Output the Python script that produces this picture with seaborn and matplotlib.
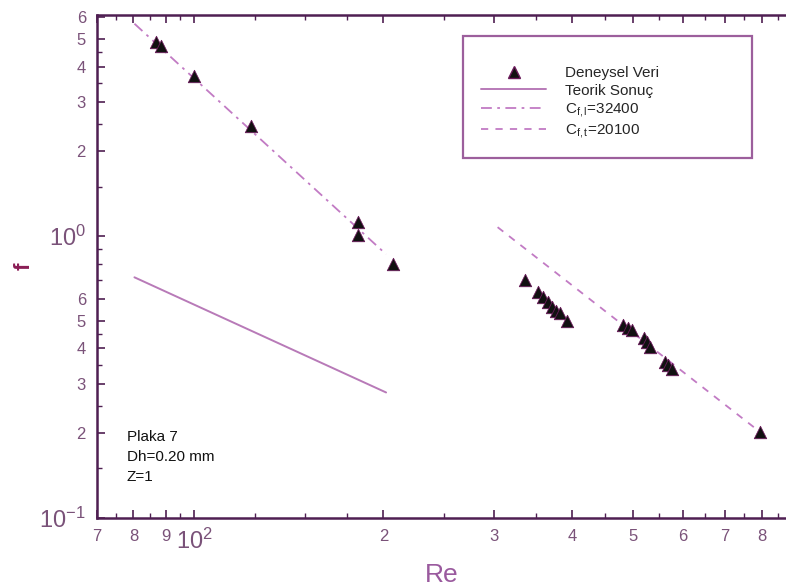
import numpy as np
import pandas as pd
import matplotlib
matplotlib.use("Agg")
import matplotlib.pyplot as plt
from matplotlib.patches import Rectangle
from matplotlib.lines import Line2D
import seaborn as sns

# ---- data ----
re_exp = [87.0, 88.5, 100, 123, 182, 182, 207,
          336, 353, 359, 366, 371, 377, 382, 392,
          481, 490, 498, 520, 526, 531, 561, 567, 576, 794]
f_exp = [4.90, 4.72, 3.71, 2.46, 1.12, 1.01, 0.795,
         0.697, 0.632, 0.607, 0.582, 0.563, 0.545, 0.532, 0.502,
         0.486, 0.474, 0.463, 0.434, 0.420, 0.406, 0.359, 0.348, 0.339, 0.202]

re_teorik = [80.3, 202]
f_teorik = [0.715, 0.279]
re_lam = [80.3, 202]
f_lam = [5.68, 0.863]
re_turb = [304, 800]
f_turb = [1.077, 0.200]

x_ticks = [70, 80, 90, 100, 200, 300, 400, 500, 600, 700, 800]
x_labels = ["7", "8", "9", r"$10^2$", "2", "3", "4", "5", "6", "7", "8"]
y_ticks = [0.1, 0.2, 0.3, 0.4, 0.5, 0.6, 1, 2, 3, 4, 5, 6]
y_labels = [r"$10^{-1}$", "2", "3", "4", "5", "6", r"$10^0$", "2", "3", "4", "5", "6"]

legend_labels = ["Deneysel Veri", "Teorik Sonuç", r"C$_{\mathrm{f,l}}$=32400", r"C$_{\mathrm{f,t}}$=20100"]
note_text = "Plaka 7\nDh=0.20 mm\nZ=1"

# ---- style ----
sns.set_theme(style="white")
plt.rcParams["font.family"] = ["Liberation Sans", "DejaVu Sans"]
plt.rcParams["mathtext.fontset"] = "custom"
plt.rcParams["mathtext.rm"] = "Liberation Sans"
plt.rcParams["mathtext.it"] = "Liberation Sans:italic"
plt.rcParams["mathtext.bf"] = "Liberation Sans:bold"

spine_c = "#4f1f52"
tick_c = "#7a5279"
line_c = "#c27bc4"

fig = plt.figure(figsize=(7.86, 5.87), dpi=100)
ax = fig.add_axes([0.1234, 0.1175, 0.8766, 0.857])

df_exp = pd.DataFrame({"Re": re_exp, "f": f_exp})
df_t = pd.DataFrame({"Re": re_teorik, "f": f_teorik})
df_l = pd.DataFrame({"Re": re_lam, "f": f_lam})
df_tu = pd.DataFrame({"Re": re_turb, "f": f_turb})

sns.lineplot(data=df_t, x="Re", y="f", ax=ax, color="#b87ab8", lw=1.4, zorder=2)
sns.lineplot(data=df_l, x="Re", y="f", ax=ax, color=line_c, lw=1.3, zorder=2)
ax.lines[-1].set_dashes((6, 3, 1.5, 3))
sns.lineplot(data=df_tu, x="Re", y="f", ax=ax, color=line_c, lw=1.3, zorder=2)
ax.lines[-1].set_dashes((4, 4))
sns.scatterplot(data=df_exp, x="Re", y="f", ax=ax, marker="^", s=80,
                color="#111111", edgecolor="#6a1a5a", linewidth=0.6, zorder=3)

ax.set_xscale("log")
ax.set_yscale("log")
ax.set_xlim(70, 875)
ax.set_ylim(0.1, 6.1)

ax.xaxis.set_major_locator(matplotlib.ticker.FixedLocator(x_ticks))
ax.xaxis.set_major_formatter(matplotlib.ticker.FixedFormatter(x_labels))
ax.xaxis.set_minor_locator(matplotlib.ticker.FixedLocator(
    [75, 85, 95, 125, 150, 175, 250, 350, 450, 550, 650, 750, 850]))
ax.xaxis.set_minor_formatter(matplotlib.ticker.NullFormatter())
ax.yaxis.set_major_locator(matplotlib.ticker.FixedLocator(y_ticks))
ax.yaxis.set_major_formatter(matplotlib.ticker.FixedFormatter(y_labels))
ax.yaxis.set_minor_locator(matplotlib.ticker.FixedLocator(
    [0.15, 0.25, 0.35, 0.45, 0.7, 0.8, 0.9, 1.5, 2.5, 3.5, 4.5]))
ax.yaxis.set_minor_formatter(matplotlib.ticker.NullFormatter())

ax.tick_params(which="both", direction="in", color=spine_c, top=True, right=False,
               bottom=True, left=True)
ax.tick_params(which="major", length=6, width=1.2, labelsize=12, labelcolor=tick_c, pad=8)
ax.tick_params(which="minor", length=3.5, width=1.0)
for lab in ax.get_xticklabels() + ax.get_yticklabels():
    if "10" in lab.get_text():
        lab.set_fontsize(17)

for side in ["left", "bottom", "top"]:
    ax.spines[side].set_color(spine_c)
    ax.spines[side].set_linewidth(1.8)
ax.spines["right"].set_visible(False)

ax.set_xlabel("Re", fontsize=19, color="#9a5a9e", labelpad=6)
ax.set_ylabel("f", fontsize=16, color="#8a1d55", fontweight="bold")
ax.yaxis.set_label_coords(-0.09, 0.50)
ax.grid(False)

# legend box
ax.add_patch(Rectangle((0.531, 0.716), 0.4195, 0.242, transform=ax.transAxes,
                       fill=False, edgecolor="#9c5f9c", lw=1.6, zorder=4))
handles = [
    Line2D([], [], ls="none", marker="^", color="#111111", markeredgecolor="#6a1a5a", markersize=8),
    Line2D([], [], color="#b87ab8", lw=1.4),
    Line2D([], [], color=line_c, lw=1.3, dashes=(6, 3, 1.5, 3)),
    Line2D([], [], color=line_c, lw=1.3, dashes=(4, 4)),
]
ax.legend(handles, legend_labels, loc="upper left", bbox_to_anchor=(0.558, 0.898),
          frameon=False, fontsize=11, handlelength=4.2, handletextpad=1.3,
          labelspacing=0.22, borderpad=0, borderaxespad=0)

ax.text(0.0435, 0.175, note_text, transform=ax.transAxes, fontsize=11,
        va="top", ha="left", linespacing=1.55, color="#111111")

fig.savefig("out.png", dpi=100)
